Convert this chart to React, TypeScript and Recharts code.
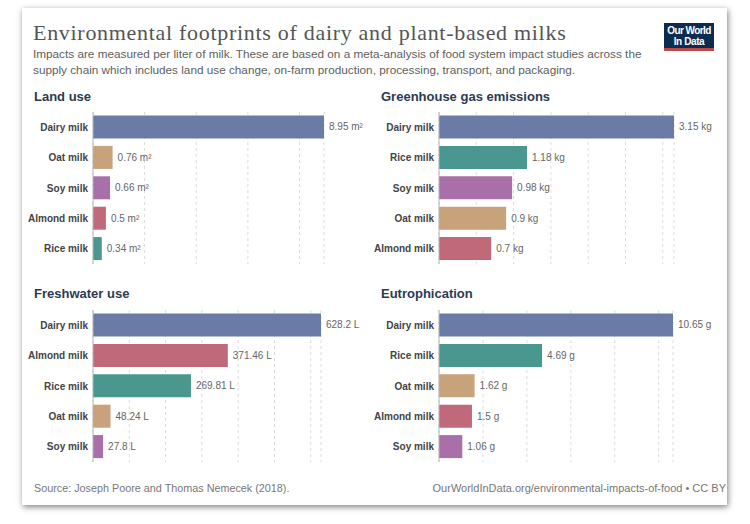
import React from 'react';
import { BarChart, Bar, XAxis, YAxis, CartesianGrid, Cell, LabelList } from 'recharts';

const landUseNames = ['Dairy milk', 'Oat milk', 'Soy milk', 'Almond milk', 'Rice milk'];
const landUseValues = [8.95, 0.76, 0.66, 0.5, 0.34];
const landUseTicks = [0, 2, 4, 6, 8];

const ghgNames = ['Dairy milk', 'Rice milk', 'Soy milk', 'Oat milk', 'Almond milk'];
const ghgValues = [3.15, 1.18, 0.98, 0.9, 0.7];
const ghgTicks = [0, 0.5, 1, 1.5, 2, 2.5, 3];

const waterNames = ['Dairy milk', 'Almond milk', 'Rice milk', 'Oat milk', 'Soy milk'];
const waterValues = [628.2, 371.46, 269.81, 48.24, 27.8];
const waterTicks = [0, 100, 200, 300, 400, 500, 600];

const eutroNames = ['Dairy milk', 'Rice milk', 'Oat milk', 'Almond milk', 'Soy milk'];
const eutroValues = [10.65, 4.69, 1.62, 1.5, 1.06];
const eutroTicks = [0, 2, 4, 6, 8, 10];

const milkColors: Record<string, string> = {
  'Dairy milk': '#6a7ba6',
  'Oat milk': '#c8a27a',
  'Soy milk': '#a86fa8',
  'Almond milk': '#c0697a',
  'Rice milk': '#4a978f',
};

const sans = '"Liberation Sans", Arial, sans-serif';

// plain svg text so recharts doesn't wrap the labels
function NameTick({ x, y, payload }: any) {
  return (
    <text x={x + 3} y={y} dy="0.35em" textAnchor="end" fontFamily={sans} fontSize={10} fontWeight={700} fill="#444">
      {payload.value}
    </text>
  );
}

interface PanelProps {
  names: string[];
  values: number[];
  ticks: number[];
  unit: string;
  left: number;
  plotTop: number;
  plotWidth: number;
}

function Panel({ names, values, ticks, unit, left, plotTop, plotWidth }: PanelProps) {
  const rows = names.map((name, i) => ({ name, value: values[i] }));
  const axisWidth = 73;
  const width = 350;

  const ValueLabel = ({ x, y, width: w, height: h, value }: any) => (
    <text x={x + w + 5} y={y + h / 2} dy="0.35em" fontFamily={sans} fontSize={10} fill="#666">
      {`${value} ${unit}`}
    </text>
  );

  return (
    <div style={{ position: 'absolute', left, top: plotTop - 4 }}>
      <BarChart
        width={width}
        height={160}
        data={rows}
        layout="vertical"
        barCategoryGap="11.5%"
        margin={{ top: 4, bottom: 4, left: 0, right: width - axisWidth - plotWidth }}
      >
        <CartesianGrid horizontal={false} strokeDasharray="3 3" stroke="#dcdcdc" />
        <XAxis type="number" hide domain={[0, 'dataMax']} ticks={ticks} />
        <YAxis
          type="category"
          dataKey="name"
          width={axisWidth}
          tickLine={false}
          axisLine={{ stroke: '#b5b5b5' }}
          tick={<NameTick />}
        />
        <Bar dataKey="value" isAnimationActive={false}>
          {rows.map((r) => (
            <Cell key={r.name} fill={milkColors[r.name]} />
          ))}
          <LabelList dataKey="value" content={<ValueLabel />} />
        </Bar>
      </BarChart>
    </div>
  );
}

export default function App() {
  return (
    <div style={{ position: 'absolute', left: 0, top: 0, width: 750, height: 524, background: '#fff', overflow: 'hidden' }}>
      <div
        style={{
          position: 'absolute',
          left: 22,
          top: 8,
          width: 705,
          height: 497,
          background: '#fff',
          boxShadow: '1px 2px 6px rgba(0,0,0,0.5)',
        }}
      />
      <svg width={750} height={524} style={{ position: 'absolute', left: 0, top: 0 }}>
        <text x={33} y={40} fontFamily='"Liberation Serif", Georgia, serif' fontSize={22} letterSpacing={0.7} fill="#555">
          Environmental footprints of dairy and plant-based milks
        </text>
        <text x={33} y={58} fontFamily={sans} fontSize={11.75} fill="#5e5e5e">
          Impacts are measured per liter of milk. These are based on a meta-analysis of food system impact studies across the
        </text>
        <text x={33} y={74} fontFamily={sans} fontSize={11.75} fill="#5e5e5e">
          supply chain which includes land use change, on-farm production, processing, transport, and packaging.
        </text>

        <rect x={664} y={23} width={50} height={25} fill="#0c2b50" />
        <rect x={664} y={48} width={50} height={3} fill="#b94a48" />
        <text x={689} y={34} textAnchor="middle" fontFamily={sans} fontSize={10} fontWeight={700} fill="#fff" letterSpacing={-0.6}>
          Our World
        </text>
        <text x={689} y={45} textAnchor="middle" fontFamily={sans} fontSize={10} fontWeight={700} fill="#fff" letterSpacing={-0.4}>
          In Data
        </text>

        <g fontFamily={sans} fontSize={13} fontWeight={700} fill="#2b3a52">
          <text x={34} y={101}>Land use</text>
          <text x={381} y={101}>Greenhouse gas emissions</text>
          <text x={34} y={298}>Freshwater use</text>
          <text x={381} y={298}>Eutrophication</text>
        </g>

        <text x={34} y={492} fontFamily={sans} fontSize={10.8} fill="#777">
          Source: Joseph Poore and Thomas Nemecek (2018).
        </text>
        <text x={726} y={492} textAnchor="end" fontFamily={sans} fontSize={11} fill="#777">
          OurWorldInData.org/environmental-impacts-of-food • CC BY
        </text>
      </svg>

      <Panel names={landUseNames} values={landUseValues} ticks={landUseTicks} unit="m²" left={20} plotTop={112} plotWidth={231} />
      <Panel names={ghgNames} values={ghgValues} ticks={ghgTicks} unit="kg" left={366} plotTop={112} plotWidth={235} />
      <Panel names={waterNames} values={waterValues} ticks={waterTicks} unit="L" left={20} plotTop={310} plotWidth={228} />
      <Panel names={eutroNames} values={eutroValues} ticks={eutroTicks} unit="g" left={366} plotTop={310} plotWidth={234} />
    </div>
  );
}
